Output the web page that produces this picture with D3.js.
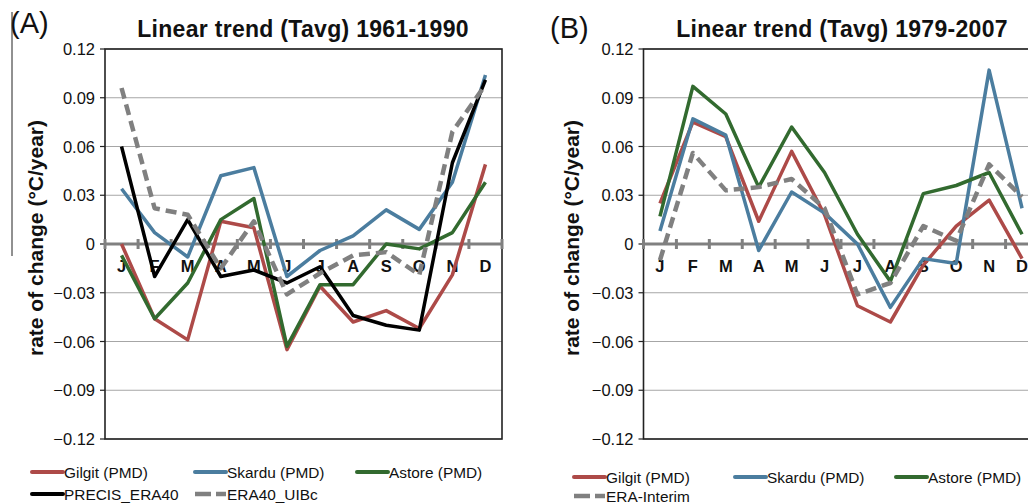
<!DOCTYPE html>
<html>
<head>
<meta charset="utf-8">
<script src="https://cdn.jsdelivr.net/npm/d3@7"></script>
<style>
  body { margin: 0; background: #fff; }
  svg { font-family: Arial, "Liberation Sans", Helvetica, sans-serif; }
</style>
</head>
<body>
<svg id="chart" width="1028" height="504"></svg>
<script>
// months on x axis
var months = ["J","F","M","A","M","J","J","A","S","O","N","D"];
var yTicks = [-0.12, -0.09, -0.06, -0.03, 0, 0.03, 0.06, 0.09, 0.12];

// panel A: 1961-1990
var gilgitA = [0.000, -0.046, -0.059, 0.014, 0.010, -0.065, -0.026, -0.048, -0.041, -0.052, -0.019, 0.049];
var skarduA = [0.034, 0.007, -0.008, 0.042, 0.047, -0.020, -0.004, 0.005, 0.021, 0.009, 0.038, 0.104];
var astoreA = [-0.007, -0.046, -0.024, 0.015, 0.028, -0.063, -0.025, -0.025, 0.000, -0.003, 0.007, 0.038];
var precisA = [0.060, -0.020, 0.015, -0.020, -0.016, -0.024, -0.014, -0.044, -0.050, -0.053, 0.050, 0.101];
var uibcA   = [0.096, 0.022, 0.018, -0.015, 0.014, -0.031, -0.018, -0.007, -0.005, -0.019, 0.069, 0.098];

// panel B: 1979-2007
var gilgitB = [0.025, 0.075, 0.066, 0.014, 0.057, 0.018, -0.038, -0.048, -0.013, 0.011, 0.027, -0.009];
var skarduB = [0.008, 0.077, 0.067, -0.004, 0.032, 0.019, 0.000, -0.039, -0.009, -0.012, 0.107, 0.022];
var astoreB = [0.017, 0.097, 0.080, 0.035, 0.072, 0.044, 0.006, -0.023, 0.031, 0.036, 0.044, 0.006];
var eraintB = [-0.010, 0.056, 0.033, 0.035, 0.040, 0.022, -0.031, -0.024, 0.011, 0.002, 0.049, 0.029];

var RED = "#ad4a48", BLUE = "#4b7d9f", GREEN = "#326a2f", GREY = "#808080";

var svg = d3.select("#chart");

function drawPanel(p) {
  var x = d3.scaleBand().domain(d3.range(12)).range([p.left, p.right]);
  var y = d3.scaleLinear().domain([-0.12, 0.12]).range([439, 49]);
  var g = svg.append("g");

  // grid
  g.selectAll(".grid").data(yTicks.filter(function(d) { return d !== 0; }))
    .enter().append("line")
    .attr("x1", p.left).attr("x2", p.right)
    .attr("y1", function(d) { return y(d); }).attr("y2", function(d) { return y(d); })
    .attr("stroke", "#a6a6a6").attr("stroke-width", 1.2);

  // frame
  g.append("rect")
    .attr("x", p.left).attr("y", y(0.12))
    .attr("width", p.right - p.left).attr("height", y(-0.12) - y(0.12))
    .attr("fill", "none").attr("stroke", "#222").attr("stroke-width", 1.6);

  // y axis ticks + labels
  g.selectAll(".yt").data(yTicks).enter().append("line")
    .attr("x1", p.left - 5).attr("x2", p.left)
    .attr("y1", function(d) { return y(d); }).attr("y2", function(d) { return y(d); })
    .attr("stroke", "#222").attr("stroke-width", 1.2);
  g.selectAll(".yl").data(yTicks).enter().append("text")
    .attr("x", p.left - 10)
    .attr("y", function(d) { return y(d) + 6; })
    .attr("text-anchor", "end")
    .attr("font-size", 16.5)
    .attr("fill", "#111")
    .text(function(d) { return d === 0 ? "0" : d3.format(".2f")(d); });

  // zero axis with cross ticks
  g.append("line")
    .attr("x1", p.left).attr("x2", p.right)
    .attr("y1", y(0)).attr("y2", y(0))
    .attr("stroke", GREY).attr("stroke-width", 3.2);
  g.selectAll(".xt").data(d3.range(13)).enter().append("line")
    .attr("x1", function(i) { return p.left + i * x.step(); })
    .attr("x2", function(i) { return p.left + i * x.step(); })
    .attr("y1", y(0) - 5).attr("y2", y(0) + 5)
    .attr("stroke", GREY).attr("stroke-width", 3);

  // month labels
  g.selectAll(".ml").data(months).enter().append("text")
    .attr("x", function(d, i) { return x(i) + x.bandwidth() / 2; })
    .attr("y", y(0) + 28)
    .attr("text-anchor", "middle")
    .attr("font-size", 16.5)
    .attr("font-weight", "bold")
    .attr("fill", "#111")
    .text(function(d) { return d; });

  // series
  var line = d3.line()
    .x(function(d, i) { return x(i) + x.bandwidth() / 2; })
    .y(function(d) { return y(d); });
  p.series.forEach(function(s) {
    g.append("path")
      .datum(s.values)
      .attr("d", line)
      .attr("fill", "none")
      .attr("stroke", s.color)
      .attr("stroke-width", s.dash ? 4.5 : 3.5)
      .attr("stroke-dasharray", s.dash ? "11,6" : null)
      .attr("stroke-linejoin", "round");
  });

  // titles
  svg.append("text")
    .attr("x", p.titleX).attr("y", 37)
    .attr("text-anchor", "middle")
    .attr("font-size", 23).attr("font-weight", "bold")
    .attr("letter-spacing", 0.3)
    .attr("fill", "#111")
    .text(p.title);
  svg.append("text")
    .attr("x", p.tagX).attr("y", p.tagY)
    .attr("font-size", 29).attr("fill", "#111")
    .text(p.tag);
  svg.append("text")
    .attr("transform", "translate(" + p.ylabX + ",238) rotate(-90)")
    .attr("text-anchor", "middle")
    .attr("font-size", 21).attr("font-weight", "bold")
    .attr("fill", "#111")
    .text("rate of change (°C/year)");

  // legend
  p.series.forEach(function(s, i) {
    var lx = p.legX[i % 3], ly = p.legY[Math.floor(i / 3)];
    if (s.dash) {
      svg.append("line").attr("x1", lx).attr("x2", lx + 31).attr("y1", ly).attr("y2", ly)
        .attr("stroke", s.color).attr("stroke-width", 4.5).attr("stroke-dasharray", "16,5");
    } else {
      svg.append("line").attr("x1", lx).attr("x2", lx + 31).attr("y1", ly).attr("y2", ly)
        .attr("stroke", s.color).attr("stroke-width", 4).attr("stroke-linecap", "round");
    }
    svg.append("text")
      .attr("x", lx + 32).attr("y", ly + 5.5)
      .attr("font-size", 15.4)
      .attr("fill", "#111")
      .text(s.name);
  });
}

drawPanel({
  left: 105, right: 502, title: "Linear trend (Tavg) 1961-1990", titleX: 303,
  tag: "(A)", tagX: 10, tagY: 33, ylabX: 43,
  legX: [32, 195, 357], legY: [472, 494],
  series: [
    { name: "Gilgit (PMD)", values: gilgitA, color: RED },
    { name: "Skardu (PMD)", values: skarduA, color: BLUE },
    { name: "Astore (PMD)", values: astoreA, color: GREEN },
    { name: "PRECIS_ERA40", values: precisA, color: "#000" },
    { name: "ERA40_UIBc", values: uibcA, color: GREY, dash: true }
  ]
});

drawPanel({
  left: 643.5, right: 1038.5, title: "Linear trend (Tavg) 1979-2007", titleX: 842,
  tag: "(B)", tagX: 550, tagY: 38, ylabX: 579,
  legX: [574, 735, 896], legY: [477, 496],
  series: [
    { name: "Gilgit (PMD)", values: gilgitB, color: RED },
    { name: "Skardu (PMD)", values: skarduB, color: BLUE },
    { name: "Astore (PMD)", values: astoreB, color: GREEN },
    { name: "ERA-Interim", values: eraintB, color: GREY, dash: true }
  ]
});

// stray vertical rule at the left edge
svg.append("line").attr("x1", 12).attr("x2", 12).attr("y1", 12).attr("y2", 256)
  .attr("stroke", "#222").attr("stroke-width", 1);
</script>
</body>
</html>
